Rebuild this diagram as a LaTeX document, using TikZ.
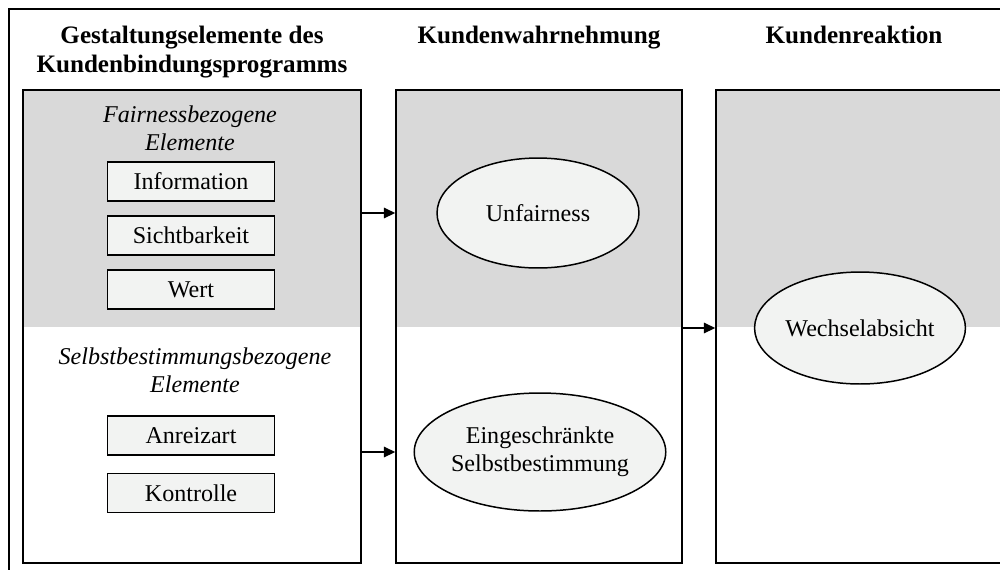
\documentclass[tikz,border=0pt]{standalone}
\usepackage{fontspec}
\setmainfont{Liberation Serif}
\usepackage{tikz}
\usetikzlibrary{arrows.meta,positioning,fit,calc,shapes.geometric,backgrounds}

\definecolor{panelgray}{HTML}{D9D9D9}
\definecolor{itemfill}{HTML}{F2F3F2}

\begin{document}
\begin{tikzpicture}[
    x=0.02cm, y=-0.02cm,
    panel/.style={rectangle, draw, line width=0.85pt, inner sep=0pt},
    block/.style={rectangle, draw, line width=0.85pt, fill=itemfill,
        minimum width=3.34cm, minimum height=0.78cm,
        font=\fontsize{13.7}{16}\selectfont, text centered},
    state/.style={ellipse, draw, line width=0.85pt, fill=itemfill,
        minimum width=4.04cm, minimum height=2.2cm, inner sep=0pt,
        font=\fontsize{13.7}{16}\selectfont, align=center},
    colhead/.style={font=\fontsize{14.3}{16.4}\selectfont\bfseries,
        align=center, inner sep=0pt},
    grouphead/.style={font=\fontsize{13.7}{15.9}\selectfont\itshape,
        align=center, inner sep=0pt},
    arr/.style={-{Triangle[length=6.5pt, width=6pt]}, line width=0.85pt},
]

\useasboundingbox (0,0) rectangle (1000,569);
\clip (0,0) rectangle (1000,569);

% ── Outer frame ──
\draw[line width=1.4pt] (9,9) rectangle (1040,600);

% ── Column panels ──
\node[panel, fit={(23,90) (361,563)}] (design) {};
\node[panel, fit={(396,90) (682,563)}] (percept) {};
\node[panel, fit={(716,90) (1004,563)}] (react) {};

\begin{scope}[on background layer]
    \fill[panelgray] (design.north west) rectangle (design.east |- 0,327);
    \fill[panelgray] (percept.north west) rectangle (percept.east |- 0,327);
    \fill[panelgray] (react.north west) rectangle (react.east |- 0,327);
\end{scope}

% ── Column titles ──
\node[colhead, anchor=base] (head1) at (192,72)
    {Gestaltungselemente des\\Kundenbindungsprogramms};
\node[colhead, anchor=base] (head2) at (539,43) {Kundenwahrnehmung};
\node[colhead, anchor=base] (head3) at (854,43) {Kundenreaktion};

% ── Fairness elements ──
\node[grouphead, anchor=base] (fairhead) at (190,150)
    {Fairnessbezogene\\Elemente};
\node[block] (info) at (191,181.5) {Information};
\node[block] (sicht) at (191,235.5) {Sichtbarkeit};
\node[block] (wert) at (191,289.5) {Wert};

% ── Self-determination elements ──
\node[grouphead, anchor=base] (selbhead) at (195,392)
    {Selbstbestimmungsbezogene\\Elemente};
\node[block] (anreiz) at (191,435.5) {Anreizart};
\node[block] (kontr) at (191,493) {Kontrolle};

% ── Perception and reaction ──
\node[state] (unfair) at (538,213) {Unfairness};
\node[state, minimum width=4.46cm, minimum height=2.36cm] (einge)
    at (540,452) {Eingeschränkte\\Selbstbestimmung};
\node[state, minimum width=4.06cm, minimum height=2.24cm] (wechsel)
    at (860,328) {Wechselabsicht};

% ── Arrows ──
\draw[arr] (design.east |- unfair.center) -- (percept.west |- unfair.center);
\draw[arr] (design.east |- einge.center) -- (percept.west |- einge.center);
\draw[arr] (percept.east |- wechsel.center) -- (react.west |- wechsel.center);

\end{tikzpicture}
\end{document}
